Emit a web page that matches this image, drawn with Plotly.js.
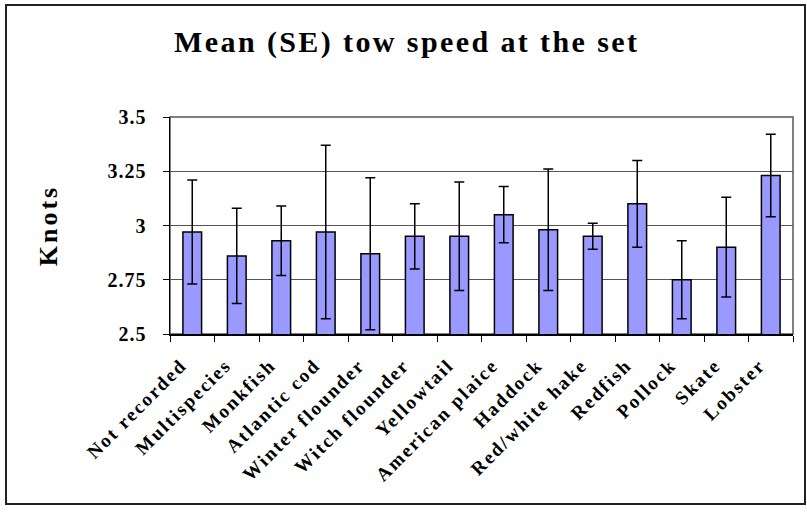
<!DOCTYPE html>
<html>
<head>
<meta charset="utf-8">
<script src="https://cdn.plot.ly/plotly-3.0.1.min.js"></script>
<style>
  html, body { margin: 0; padding: 0; background: #fff; }
  #chart { width: 807px; height: 512px; }
  #chart .gtitle { letter-spacing: 2.4px; }
  #chart .ytitle { letter-spacing: 3px; }
  #chart .xtick text { letter-spacing: 2.1px; }
  #chart .ytick text { letter-spacing: 1px; }
</style>
</head>
<body>
<div id="chart"></div>
<script>
const categories = ["Not recorded", "Multispecies", "Monkfish", "Atlantic cod", "Winter flounder",
  "Witch flounder", "Yellowtail", "American plaice", "Haddock", "Red/white hake",
  "Redfish", "Pollock", "Skate", "Lobster"];
const meanSpeed = [2.97, 2.86, 2.93, 2.97, 2.87, 2.95, 2.95, 3.05, 2.98, 2.95, 3.10, 2.75, 2.90, 3.23];
const seSpeed   = [0.24, 0.22, 0.16, 0.40, 0.35, 0.15, 0.25, 0.13, 0.28, 0.06, 0.20, 0.18, 0.23, 0.19];
const yTicks = [2.5, 2.75, 3, 3.25, 3.5];
const yTickText = ["2.5", "2.75", "3", "3.25", "3.5"];

const serif = "Liberation Serif, Times New Roman, serif";

const trace = {
  type: "bar",
  x: categories,
  y: meanSpeed,
  base: 0,
  marker: { color: "#9999FF", line: { color: "#000000", width: 1.5 } },
  error_y: { type: "data", array: seSpeed, visible: true, color: "#000000", thickness: 1.5, width: 5 },
  hoverinfo: "x+y"
};

const layout = {
  width: 807, height: 512,
  margin: { l: 170, r: 14, t: 117, b: 178 },
  paper_bgcolor: "#ffffff",
  plot_bgcolor: "#ffffff",
  bargap: 0.58,
  showlegend: false,
  title: {
    text: "<b>Mean (SE) tow speed at the set</b>",
    font: { family: serif, size: 30, color: "#000" },
    x: 0.504, xref: "container", xanchor: "center",
    y: 0.918, yref: "container", yanchor: "middle"
  },
  xaxis: {
    type: "category",
    tickangle: -45,
    tickson: "boundaries",
    ticks: "outside", ticklen: 6, tickcolor: "#000", tickwidth: 1,
    ticklabelstandoff: 11,
    ticklabelshift: -11,
    showline: true, linecolor: "#000", linewidth: 1.5,
    showgrid: false,
    tickfont: { family: serif, size: 19, color: "#000", weight: "bold" }
  },
  yaxis: {
    range: [2.5, 3.5],
    tickvals: yTicks, ticktext: yTickText,
    ticks: "outside", ticklen: 6, tickcolor: "#000", tickwidth: 1,
    ticklabelstandoff: 12,
    showline: true, linecolor: "#000", linewidth: 1.5,
    showgrid: true, gridcolor: "#555555", gridwidth: 1,
    zeroline: false,
    tickfont: { family: serif, size: 20, color: "#000", weight: "bold" },
    title: { text: "<b>Knots</b>", font: { family: serif, size: 26, color: "#000" }, standoff: 46 }
  },
  shapes: [
    { type: "rect", xref: "paper", yref: "paper", x0: 0, x1: 1, y0: 0, y1: 1,
      line: { color: "#555555", width: 1.5 }, layer: "below" },
    { type: "rect", xref: "paper", yref: "paper",
      x0: (6 - 170) / 623, x1: (805 - 170) / 623,
      y0: (334 - 504) / 217, y1: (334 - 5) / 217,
      line: { color: "#222222", width: 2 } }
  ]
};

Plotly.newPlot("chart", [trace], layout, { displayModeBar: false, staticPlot: true });
</script>
</body>
</html>
